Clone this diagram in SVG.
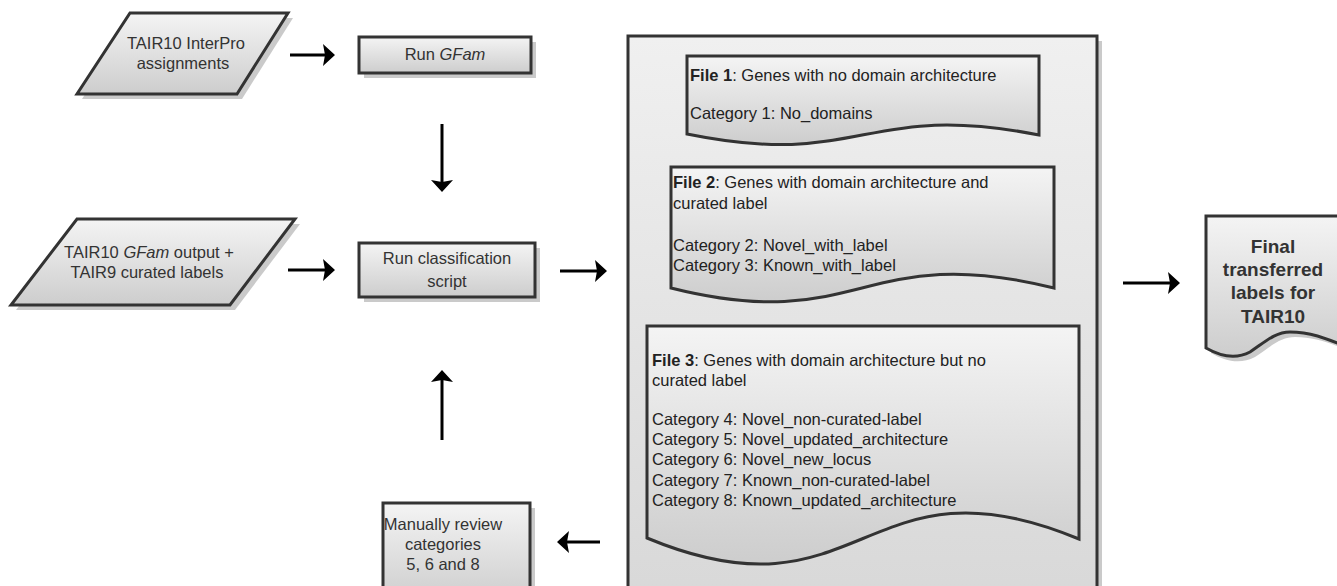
<svg xmlns="http://www.w3.org/2000/svg" width="1337" height="586" viewBox="0 0 1337 586">
<style>
  .shape { stroke: #333; stroke-width: 3; fill: url(#g1); stroke-linejoin: miter; }
  .shadow { fill: #cacaca; stroke: none; }
  .cont { stroke: #333; stroke-width: 3; fill: url(#g2); }
  .t { font-family: "Liberation Sans", Arial, sans-serif; font-size: 16.5px; fill: #333; }
  .c { text-anchor: middle; }
  .d { font-family: "Liberation Sans", Arial, sans-serif; font-size: 16.5px; fill: #222; }
  .fin { font-family: "Liberation Sans", Arial, sans-serif; font-size: 19px; font-weight: bold; fill: #333; text-anchor: middle; }
  .arr { stroke: #000; stroke-width: 3; fill: none; marker-end: url(#ah); }
</style>
<defs>
  <linearGradient id="g1" x1="0" y1="0" x2="0" y2="1">
    <stop offset="0" stop-color="#f4f4f4"/>
    <stop offset="1" stop-color="#cdcdcd"/>
  </linearGradient>
  <linearGradient id="g2" x1="0" y1="0" x2="0" y2="1">
    <stop offset="0" stop-color="#f0f0f0"/>
    <stop offset="1" stop-color="#d8d8d8"/>
  </linearGradient>
  <marker id="ah" viewBox="0 -12 13 24" markerWidth="13" markerHeight="24" refX="3" refY="0" orient="auto" markerUnits="userSpaceOnUse">
    <path d="M0,-11 L12,0 L0,11 L2,0 Z" fill="#000"/>
  </marker>
</defs>
<rect width="1337" height="586" fill="#fff"/>

<g id="input-interpro">
  <polygon class="shadow" points="135,18 293,18 242,99 82,99"/>
  <polygon class="shape" points="130,13 288,13 237,94 77,94"/>
  <text class="t c" x="186" y="49">TAIR10 InterPro</text>
  <text class="t c" x="183" y="69">assignments</text>
</g>

<g id="run-gfam">
  <rect class="shadow" x="364" y="42" width="172" height="36"/>
  <rect class="shape" x="359" y="37" width="172" height="36"/>
  <text class="t c" x="445" y="60">Run <tspan font-style="italic">GFam</tspan></text>
</g>

<g id="input-gfam">
  <polygon class="shadow" points="82,224 300,224 235,310 16,310"/>
  <polygon class="shape" points="77,219 295,219 230,305 11,305"/>
  <text class="t c" x="149" y="258">TAIR10 <tspan font-style="italic">GFam</tspan> output +</text>
  <text class="t c" x="147" y="278">TAIR9 curated labels</text>
</g>

<g id="run-classification">
  <rect class="shadow" x="364" y="248" width="176" height="54"/>
  <rect class="shape" x="359" y="243" width="176" height="54"/>
  <text class="t c" x="447" y="264">Run classification</text>
  <text class="t c" x="447" y="287">script</text>
</g>

<g id="manual-review">
  <rect class="shadow" x="388" y="508" width="147" height="100"/>
  <rect class="shape" x="383" y="503" width="147" height="100"/>
  <text class="t c" x="443" y="530">Manually review</text>
  <text class="t c" x="443" y="550">categories</text>
  <text class="t c" x="443" y="570">5, 6 and 8</text>
</g>

<g id="output-files">
  <rect class="shadow" x="633" y="41" width="469" height="570"/>
  <rect class="cont" x="628" y="36" width="469" height="570"/>

  <g id="file1">
    <path class="shape" d="M687,56 H1039 V135 C863,100 863,170 687,134 Z"/>
    <text class="d" x="690" y="81"><tspan font-weight="bold">File 1</tspan>: Genes with no domain architecture</text>
    <text class="d" x="690" y="119">Category 1: No_domains</text>
  </g>

  <g id="file2">
    <path class="shape" d="M671,167 H1054 V288 C862,240 862,336 671,288 Z"/>
    <text class="d" x="673" y="188"><tspan font-weight="bold">File 2</tspan>: Genes with domain architecture and</text>
    <text class="d" x="673" y="209">curated label</text>
    <text class="d" x="673" y="251">Category 2: Novel_with_label</text>
    <text class="d" x="673" y="271">Category 3: Known_with_label</text>
  </g>

  <g id="file3">
    <path class="shape" d="M647,326 H1079 V539 C863,449 863,628 647,538 Z"/>
    <text class="d" x="652" y="366"><tspan font-weight="bold">File 3</tspan>: Genes with domain architecture but no</text>
    <text class="d" x="652" y="386">curated label</text>
    <text class="d" x="652" y="425">Category 4: Novel_non-curated-label</text>
    <text class="d" x="652" y="445">Category 5: Novel_updated_architecture</text>
    <text class="d" x="652" y="465">Category 6: Novel_new_locus</text>
    <text class="d" x="652" y="486">Category 7: Known_non-curated-label</text>
    <text class="d" x="652" y="506">Category 8: Known_updated_architecture</text>
  </g>
</g>

<g id="final-labels">
  <path class="shadow" d="M1211,221 H1350 V351 C1330,343 1315,337 1295,337 C1280,337 1270,347 1255,357 C1240,365 1225,361 1211,353 Z"/>
  <path class="shape" d="M1206,216 H1345 V346 C1325,338 1310,332 1290,332 C1275,332 1265,342 1250,352 C1235,360 1220,356 1206,348 Z"/>
  <text class="fin" x="1273" y="253">Final</text>
  <text class="fin" x="1273" y="276">transferred</text>
  <text class="fin" x="1273" y="299">labels for</text>
  <text class="fin" x="1273" y="323">TAIR10</text>
</g>

<g id="connectors">
  <line class="arr" x1="290" y1="55" x2="326" y2="55"/>
  <line class="arr" x1="288" y1="270" x2="326" y2="270"/>
  <line class="arr" x1="560" y1="271" x2="598" y2="271"/>
  <line class="arr" x1="1123" y1="283" x2="1171" y2="283"/>
  <line class="arr" x1="442" y1="124" x2="442" y2="183"/>
  <line class="arr" x1="442" y1="440" x2="442" y2="379"/>
  <line class="arr" x1="600" y1="542" x2="566" y2="542"/>
</g>
</svg>
